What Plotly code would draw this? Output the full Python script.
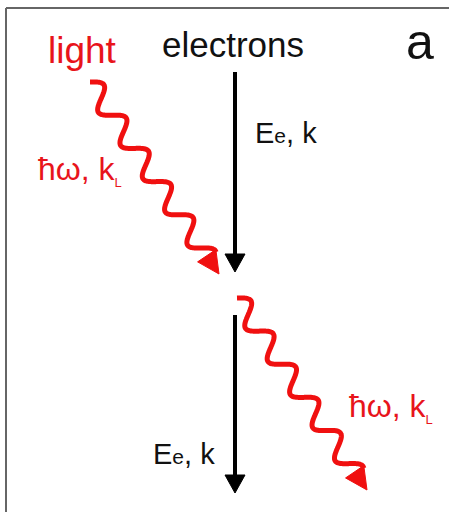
import numpy as np
import plotly.graph_objects as go

# ---- diagram data (pixel-space coordinates of the sketch) ----
electron_arrows = [  # (x, y_start, y_tip)
    (235, 72, 272),
    (235, 315, 493),
]
photon_arrows = [  # (start_x, start_y, tip_x, tip_y)
    (90, 82, 219, 274),
    (237, 298, 367, 490),
]
wave_period = 40.0
wave_amp = 10.0
labels = [  # text, x, y, size, color
    ("light", 82, 50, 37, "#e8141b"),
    ("electrons", 233, 44, 35, "#111111"),
    ("a", 420, 42, 50, "#111111"),
    ("E<span style='font-size:21px'>e</span>, k", 286, 133, 29, "#111111"),
    ("E<span style='font-size:21px'>e</span>, k", 184, 454, 29, "#111111"),
    ("ħω, k<sub><span style='font-size:13px'>L</span></sub>", 80, 170, 32, "#e8141b"),
    ("ħω, k<sub><span style='font-size:13px'>L</span></sub>", 391, 407, 32, "#e8141b"),
]
RED = "#f01010"
BLACK = "#000000"

fig = go.Figure()


def add_head(tip, d, length, half_w, color):
    tx, ty = tip
    bx, by = tx - d[0] * length, ty - d[1] * length
    px, py = -d[1], d[0]
    xs = [tx, bx + px * half_w, bx - px * half_w, tx]
    ys = [ty, by + py * half_w, by - py * half_w, ty]
    fig.add_trace(go.Scatter(x=xs, y=ys, mode="lines", fill="toself",
                             fillcolor=color, line=dict(color=color, width=1),
                             hoverinfo="skip", showlegend=False))


for x, y0, y1 in electron_arrows:
    head = 18
    fig.add_trace(go.Scatter(x=[x, x], y=[y0, y1 - head + 2], mode="lines",
                             line=dict(color=BLACK, width=4),
                             hoverinfo="skip", showlegend=False))
    add_head((x, y1), (0.0, 1.0), head, 10, BLACK)

for sx, sy, tx, ty in photon_arrows:
    vx, vy = tx - sx, ty - sy
    L = np.hypot(vx, vy)
    d = (vx / L, vy / L)
    n = (d[1], -d[0])  # up-right perpendicular
    head = 22
    s = np.linspace(0, L - head + 2, 400)
    off = wave_amp * np.sin(2 * np.pi * s / wave_period)
    xs = sx + d[0] * s + n[0] * off
    ys = sy + d[1] * s + n[1] * off
    fig.add_trace(go.Scatter(x=xs, y=ys, mode="lines",
                             line=dict(color=RED, width=5, shape="spline"),
                             hoverinfo="skip", showlegend=False))
    add_head((tx, ty), d, head, 11, RED)

for text, x, y, size, color in labels:
    fig.add_annotation(x=x, y=y, xref="x", yref="y", text=text, showarrow=False,
                       xanchor="center", yanchor="middle",
                       font=dict(family="Liberation Sans, Arial, sans-serif",
                                 size=size, color=color))

# frame (left and top edges)
fig.add_shape(type="line", x0=6, x1=6, y0=8, y1=512, xref="x", yref="y",
              line=dict(color="#666666", width=2))
fig.add_shape(type="line", x0=6, x1=449, y0=8, y1=8, xref="x", yref="y",
              line=dict(color="#666666", width=2))

fig.update_layout(
    width=449, height=512, margin=dict(l=0, r=0, t=0, b=0),
    paper_bgcolor="white", plot_bgcolor="white",
    xaxis=dict(range=[0, 449], visible=False, fixedrange=True),
    yaxis=dict(range=[512, 0], visible=False, fixedrange=True),
    showlegend=False,
)
fig.write_html("out.html")
